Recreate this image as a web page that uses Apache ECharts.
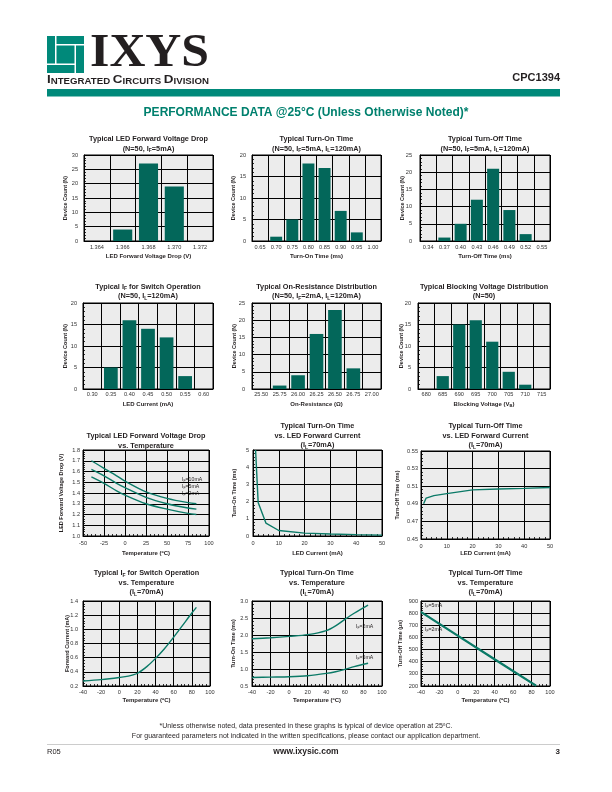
<!DOCTYPE html>
<html><head><meta charset="utf-8">
<script src="https://cdn.jsdelivr.net/npm/echarts@6/dist/echarts.min.js"></script>
<style>html,body{margin:0;padding:0;background:#fff}#c{width:612px;height:792px}</style>
</head><body><div id="c"></div>
<script>
// ---------- DATA ----------
const fwdVCats = ['1.364','1.366','1.368','1.370','1.372'];
const fwdVCounts = [0, 4, 27, 19, 0];
const tonCats = ['0.65','0.70','0.75','0.80','0.85','0.90','0.95','1.00'];
const tonCounts = [0, 1, 5, 18, 17, 7, 2, 0];
const toffCats = ['0.34','0.37','0.40','0.43','0.46','0.49','0.52','0.55'];
const toffCounts = [0, 1, 5, 12, 21, 9, 2, 0];
const ifCats = ['0.30','0.35','0.40','0.45','0.50','0.55','0.60'];
const ifCounts = [0, 5, 16, 14, 12, 3, 0];
const ronCats = ['25.50','25.75','26.00','26.25','26.50','26.75','27.00'];
const ronCounts = [0, 1, 4, 16, 23, 6, 0];
const vbCats = ['680','685','690','695','700','705','710','715'];
const vbCounts = [0, 3, 15, 16, 11, 4, 1, 0];

const tempFwdV = [-40, -25, -10, 0, 25, 50, 75, 85];
const fwdV10mA = [1.70, 1.63, 1.56, 1.51, 1.41, 1.35, 1.31, 1.30];
const fwdV5mA  = [1.62, 1.56, 1.49, 1.45, 1.36, 1.30, 1.26, 1.25];
const fwdV2mA  = [1.55, 1.49, 1.42, 1.38, 1.30, 1.25, 1.21, 1.20];

const ledCurrent = [1, 2, 5, 10, 20, 30, 40, 50];
const tonVsIf  = [5.0, 1.95, 0.75, 0.32, 0.17, 0.12, 0.08, 0.05];
const toffVsIf = [0.490, 0.4965, 0.4993, 0.5015, 0.5058, 0.5068, 0.5075, 0.5085];

const tempIf = [-40, -20, 0, 10, 20, 30, 40, 50, 60, 70, 80, 85];
const ifVsTemp = [0.27, 0.29, 0.32, 0.34, 0.38, 0.47, 0.59, 0.73, 0.89, 1.06, 1.23, 1.31];

const tempTon = [-40, -20, 0, 20, 40, 50, 60, 70, 85];
const tonTemp2mA = [1.89, 1.92, 1.96, 2.01, 2.13, 2.27, 2.46, 2.64, 2.88];
const tonTemp5mA = [0.75, 0.76, 0.77, 0.80, 0.87, 0.92, 0.99, 1.07, 1.17];

const tempToff = [-40, 0, 40, 85];
const toffTemp5mA = [812, 617, 422, 205];
const toffTemp2mA = [806, 611, 416, 200];

// ---------- STYLE ----------
const F = 'Liberation Sans, Arial, Helvetica, sans-serif';
const BAR = '#03675a';
const LINE = '#0b7a67';
const TEAL = '#00897a';
const BG = '#ececec';
const INK = '#231f20';

const grids = [
  [84,155,129,86],[252,155,129,86],[420,155,130,86],
  [83,303,130,86],[252,303,129,86],[418,303,132,86],
  [83,450,126,86],[253,450,129,86],[421,451,129,88],
  [83,601,127,85],[252,601,130,85],[421,601,129,85]
];
const xMargins = [3,3,3, 2,2,2, 4,4,4, 3,3,3];
const yMargins = [6,6,8, 6,7,7, 3,4,3, 5,4,3];

const axisLineS = {show:true, onZero:false, lineStyle:{color:'#000', width:1}};
const splitS = {show:true, lineStyle:{color:'#000', width:1}};
function labelS(m, fmt){ const o = {fontSize:5.6, color:'#333', fontFamily:F, margin:m}; if (fmt) o.formatter = fmt; return o; }
function tickS(){ return {show:true, inside:true, length:3, lineStyle:{color:'#000', width:1}}; }
function minorS(){ return {show:true, splitNumber:5, length:2, lineStyle:{color:'#000', width:0.8}}; }

function catX(i, cats){
  return {gridIndex:i, type:'category', data:cats, boundaryGap:true, axisLine:axisLineS,
    axisTick:{show:false}, axisLabel:Object.assign(labelS(xMargins[i]), {interval:0}),
    splitLine:{show:true, interval:0, lineStyle:{color:'#000', width:1}}};
}
function valX(i, min, max, interval){
  return {gridIndex:i, type:'value', min, max, interval, axisLine:axisLineS, axisTick:tickS(),
    minorTick:minorS(), axisLabel:labelS(xMargins[i]), splitLine:splitS, minorSplitLine:{show:false}};
}
function valY(i, min, max, interval, fmt){
  return {gridIndex:i, type:'value', min, max, interval, axisLine:axisLineS, axisTick:tickS(),
    minorTick:minorS(), axisLabel:labelS(yMargins[i], fmt), splitLine:splitS, minorSplitLine:{show:false}};
}

const toffBase = 0.45;
const xAxes = [
  catX(0, fwdVCats), catX(1, tonCats), catX(2, toffCats),
  catX(3, ifCats), catX(4, ronCats), catX(5, vbCats),
  valX(6, -50, 100, 25), valX(7, 0, 50, 10), valX(8, 0, 50, 10),
  valX(9, -40, 100, 20), valX(10, -40, 100, 20), valX(11, -40, 100, 20)
];
const yAxes = [
  valY(0, 0, 30, 5), valY(1, 0, 20, 5), valY(2, 0, 25, 5),
  valY(3, 0, 20, 5), valY(4, 0, 25, 5), valY(5, 0, 20, 5),
  valY(6, 1.0, 1.8, 0.1, v => v.toFixed(1)),
  valY(7, 0, 5, 1),
  valY(8, 0, 0.1, 0.02, v => (v + toffBase).toFixed(2)),
  valY(9, 0.2, 1.4, 0.2, v => v.toFixed(1)),
  valY(10, 0.5, 3.0, 0.5, v => v.toFixed(1)),
  valY(11, 200, 900, 100)
];

const series = [];
[fwdVCounts, tonCounts, toffCounts, ifCounts, ronCounts, vbCounts].forEach((d, i) => {
  series.push({type:'bar', xAxisIndex:i, yAxisIndex:i, data:d, barCategoryGap:'26%',
    itemStyle:{color:BAR}, silent:true});
});
function line(i, xs, ys, smooth, w){
  series.push({type:'line', xAxisIndex:i, yAxisIndex:i, data:xs.map((x, k) => [x, ys[k]]),
    showSymbol:false, symbol:'none', smooth:smooth,
    lineStyle:{color:LINE, width:w || 1.4}, silent:true});
}
line(6, tempFwdV, fwdV10mA, 0.3);
line(6, tempFwdV, fwdV5mA, 0.3);
line(6, tempFwdV, fwdV2mA, 0.3);
line(7, ledCurrent, tonVsIf, false);
line(8, ledCurrent, toffVsIf.map(v => v - toffBase), false);
line(9, tempIf, ifVsTemp, 0.3);
line(10, tempTon, tonTemp2mA, 0.3);
line(10, tempTon, tonTemp5mA, 0.3);
line(11, tempToff, toffTemp5mA, false, 1.6);
line(11, tempToff, toffTemp2mA, false, 1.6);

// ---------- TEXT ----------
function rich(size, weight, fill){
  return {s:{fontSize:size*0.68, fontFamily:F, fontWeight:weight, fill:fill, verticalAlign:'bottom', lineHeight:size*0.75}};
}
function txt(x, y, text, size, o){
  o = o || {};
  const weight = o.weight || 'normal';
  const fill = o.fill || INK;
  const el = {type:'text', x:x, y:y, silent:true, style:{text:text, fontSize:size, fontFamily:o.family || F,
    fontWeight:weight, fill:fill, align:o.align || 'center', verticalAlign:'middle', lineHeight:size*1.3,
    rich:rich(size, weight, fill)}};
  if (o.bg) { el.style.backgroundColor = o.bg; el.style.padding = [0, 1]; }
  if (o.rotation) el.rotation = o.rotation;
  if (o.scaleX) el.scaleX = o.scaleX;
  return el;
}

const titles = [
  ['Typical LED Forward Voltage Drop', '(N=50, I{s|F}=5mA)'],
  ['Typical Turn-On Time', '(N=50, I{s|F}=5mA, I{s|L}=120mA)'],
  ['Typical Turn-Off Time', '(N=50, I{s|F}=5mA, I{s|L}=120mA)'],
  ['Typical I{s|F} for Switch Operation', '(N=50, I{s|L}=120mA)'],
  ['Typical On-Resistance Distribution', '(N=50, I{s|F}=2mA, I{s|L}=120mA)'],
  ['Typical Blocking Voltage Distribution', '(N=50)'],
  ['Typical LED Forward Voltage Drop', 'vs. Temperature'],
  ['Typical Turn-On Time', 'vs. LED Forward Current', '(I{s|L}=70mA)'],
  ['Typical Turn-Off Time', 'vs. LED Forward Current', '(I{s|L}=70mA)'],
  ['Typical I{s|F} for Switch Operation', 'vs. Temperature', '(I{s|L}=70mA)'],
  ['Typical Turn-On Time', 'vs. Temperature', '(I{s|L}=70mA)'],
  ['Typical Turn-Off Time', 'vs. Temperature', '(I{s|L}=70mA)']
];
const titleY = [[138.5,148.5],[138.5,148.5],[138.5,148.5],[286.5,296],[286.5,296],[286.5,296],
  [436,446],[426,435.5,445],[426,435.5,445],[573,582.5,592],[573,582.5,592],[573,582.5,592]];
const xNames = ['LED Forward Voltage Drop (V)','Turn-On Time (ms)','Turn-Off Time (ms)',
  'LED Current (mA)','On-Resistance (\u03A9)','Blocking Voltage (V{s|B})',
  'Temperature (\u00BAC)','LED Current (mA)','LED Current (mA)',
  'Temperature (\u00BAC)','Temperature (\u00BAC)','Temperature (\u00BAC)'];
const xNameY = [256,256,256, 404,404,404, 553,553,553, 700,700,700];
const yNames = ['Device Count (N)','Device Count (N)','Device Count (N)','Device Count (N)','Device Count (N)','Device Count (N)',
  'LED Forward Voltage Drop (V)','Turn-On Time (ms)','Turn-Off Time (ms)',
  'Forward Current (mA)','Turn-On Time (ms)','Turn-Off Time (\u00B5s)'];
const yNameX = [65,233,402, 65,234,401, 61,234,397, 67,233,400];

const gfx = [];
grids.forEach((g, i) => {
  const cx = g[0] + g[2] / 2, cy = g[1] + g[3] / 2;
  titles[i].forEach((t, k) => gfx.push(txt(cx, titleY[i][k], t, 7.3, {weight:'bold'})));
  gfx.push(txt(cx, xNameY[i], xNames[i], 6, {weight:'bold'}));
  gfx.push(txt(yNameX[i], cy, yNames[i], 5.5, {weight:'bold', rotation:Math.PI / 2}));
});
// curve labels
gfx.push(txt(181, 480, 'I{s|F}=10mA', 5.2, {align:'left', bg:BG}));
gfx.push(txt(181, 487, 'I{s|F}=5mA', 5.2, {align:'left', bg:BG}));
gfx.push(txt(181, 494, 'I{s|F}=2mA', 5.2, {align:'left', bg:BG}));
gfx.push(txt(355, 627, 'I{s|F}=2mA', 5.2, {align:'left', bg:BG}));
gfx.push(txt(355, 658, 'I{s|F}=5mA', 5.2, {align:'left', bg:BG}));
gfx.push(txt(424, 606, 'I{s|F}=5mA', 5.2, {align:'left', bg:BG}));
gfx.push(txt(424, 630, 'I{s|F}=2mA', 5.2, {align:'left', bg:BG}));

// ---------- HEADER ----------
const cv = document.createElement('canvas').getContext('2d');
function mw(t, font){ cv.font = font; return cv.measureText(t).width; }
[[47,36,8,27.5],[56.5,36,27.5,8],[76,45.5,8,27.5],[47,65,27.5,8],[56.5,45.5,18,18]].forEach(r => {
  gfx.push({type:'rect', silent:true, shape:{x:r[0], y:r[1], width:r[2], height:r[3]}, style:{fill:TEAL}});
});
const ixysFont = 'bold 46px "Liberation Serif"';
const ixysW = mw('IXYS', ixysFont) || 110;
gfx.push({type:'text', x:90, y:54, scaleX:119 / ixysW, silent:true,
  style:{text:'IXYS', fontSize:46, fontFamily:'Liberation Serif, Times New Roman, serif', fontWeight:'bold', fill:INK, align:'left', verticalAlign:'middle'}});
const bigF = 'bold 11.5px "Liberation Sans"', smF = 'bold 8.3px "Liberation Sans"';
const icdW = (mw('I', bigF) + mw('NTEGRATED ', smF) + mw('C', bigF) + mw('IRCUITS ', smF) + mw('D', bigF) + mw('IVISION', smF)) || 135;
gfx.push({type:'text', x:47, y:80.5, scaleX:162 / icdW, silent:true,
  style:{text:'{b|I}{m|NTEGRATED }{b|C}{m|IRCUITS }{b|D}{m|IVISION}', align:'left', verticalAlign:'middle',
    rich:{b:{fontSize:11.5, fontWeight:'bold', fontFamily:F, fill:INK, verticalAlign:'bottom', lineHeight:11},
          m:{fontSize:8.3, fontWeight:'bold', fontFamily:F, fill:INK, verticalAlign:'bottom', lineHeight:8.4}}}});
gfx.push(txt(560, 77.5, 'CPC1394', 11, {weight:'bold', align:'right'}));
gfx.push({type:'rect', silent:true, shape:{x:47, y:89, width:513, height:7.5}, style:{fill:TEAL}});
gfx.push(txt(306, 113, 'PERFORMANCE DATA @25\u00B0C (Unless Otherwise Noted)*', 12, {weight:'bold', fill:'#00806e'}));

// ---------- FOOTER ----------
gfx.push(txt(306, 726, '*Unless otherwise noted, data presented in these graphs is typical of device operation at 25\u00BAC.', 7));
gfx.push(txt(306, 736, 'For guaranteed parameters not indicated in the written specifications, please contact our application department.', 7));
gfx.push({type:'line', silent:true, shape:{x1:47, y1:744.5, x2:560, y2:744.5}, style:{stroke:'#999', lineWidth:0.5}});
gfx.push(txt(47, 752, 'R05', 7.5, {align:'left'}));
gfx.push(txt(306, 752, 'www.ixysic.com', 8.5, {weight:'bold'}));
gfx.push(txt(560, 752, '3', 8, {weight:'bold', align:'right'}));

const chart = echarts.init(document.getElementById('c'), null, {renderer:'canvas'});
chart.setOption({
  animation:false,
  backgroundColor:'#fff',
  grid: grids.map(g => ({left:g[0], top:g[1], width:g[2], height:g[3], show:true, backgroundColor:BG, borderColor:'#000', borderWidth:1, containLabel:false})),
  xAxis: xAxes,
  yAxis: yAxes,
  series: series,
  graphic: {elements: gfx}
});
</script></body></html>
